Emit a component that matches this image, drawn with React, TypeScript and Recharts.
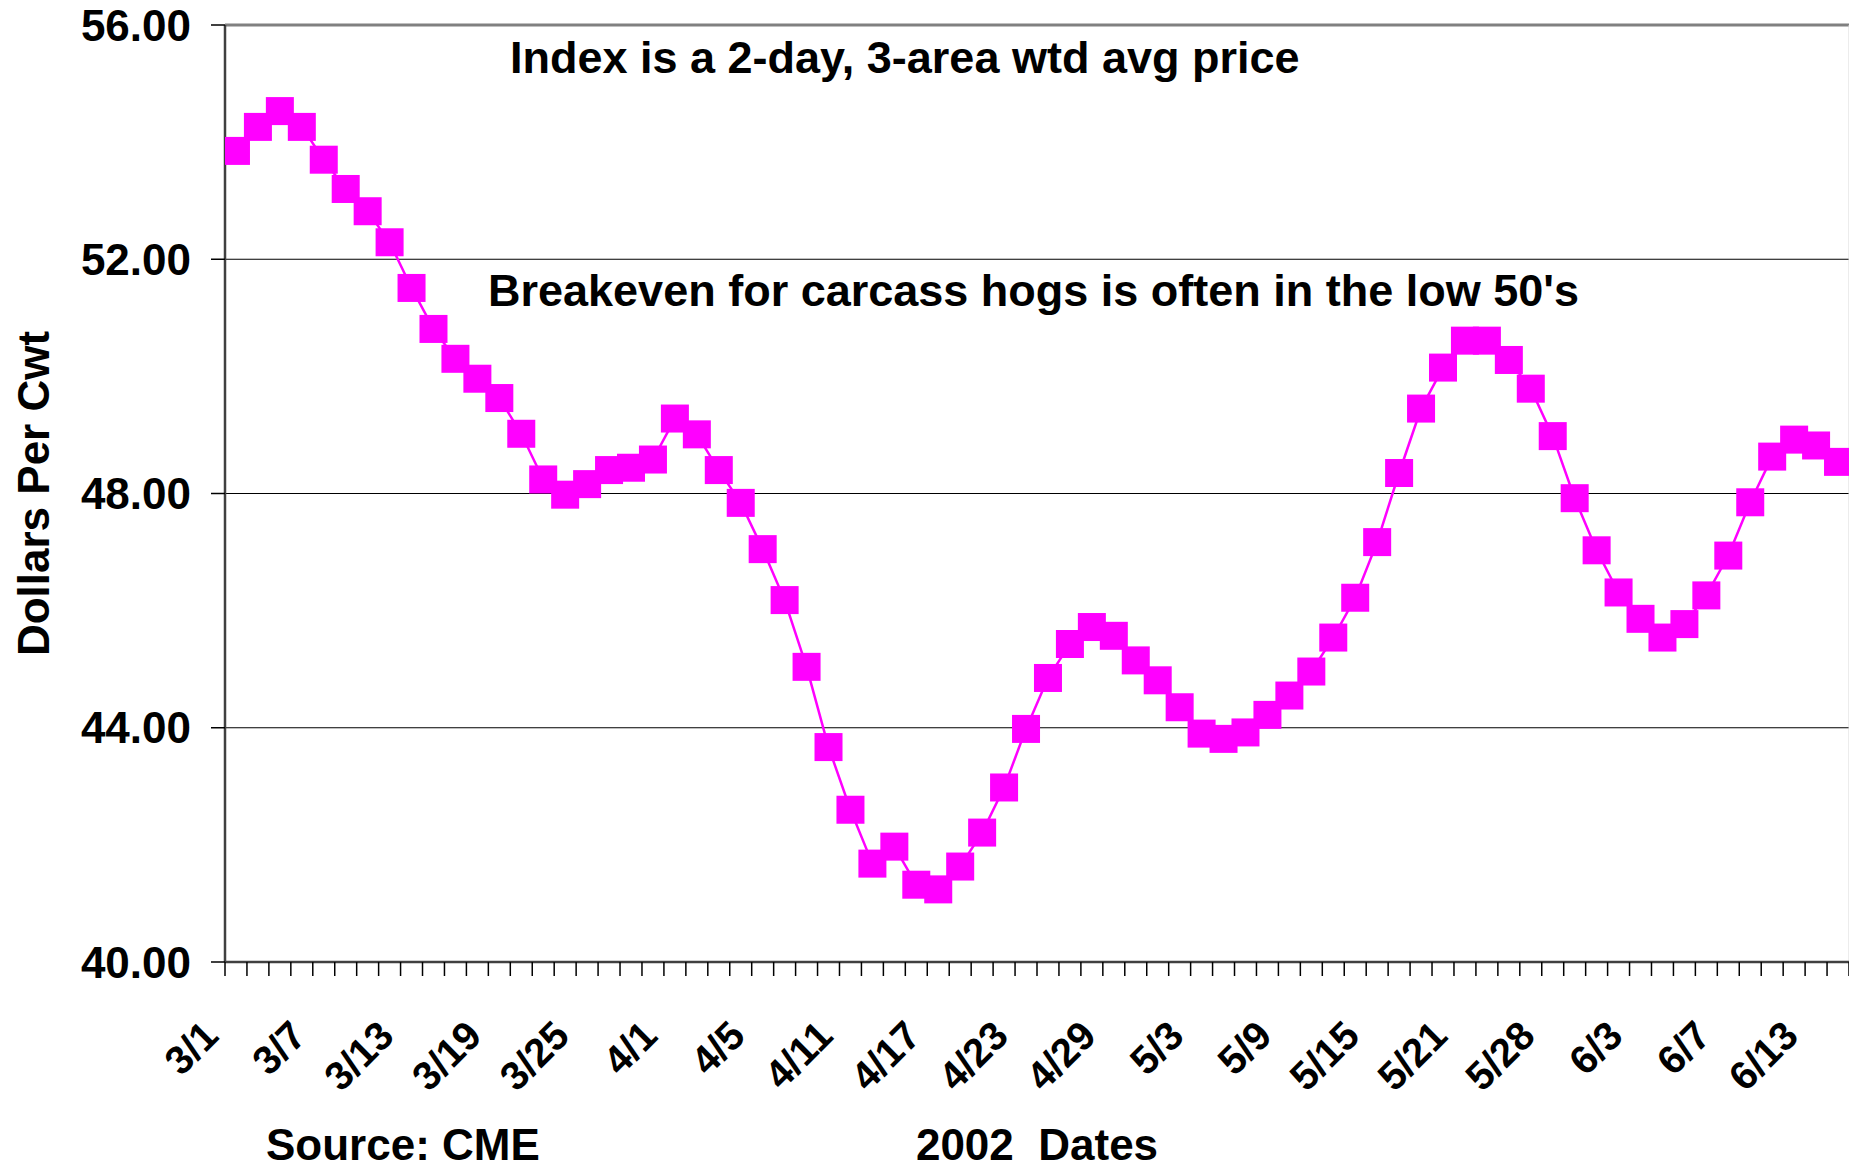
import { LineChart, Line, XAxis, YAxis, CartesianGrid, ReferenceLine } from 'recharts';

// trading days, March - June 2002
const dates = [
    '3/1', '3/4', '3/5', '3/6', '3/7', '3/8', '3/11', '3/12', '3/13', '3/14',
    '3/15', '3/18', '3/19', '3/20', '3/21', '3/22', '3/25', '3/26', '3/27', '3/28',
    '4/1', '4/2', '4/3', '4/4', '4/5', '4/8', '4/9', '4/10', '4/11', '4/12',
    '4/15', '4/16', '4/17', '4/18', '4/19', '4/22', '4/23', '4/24', '4/25', '4/26',
    '4/29', '4/30', '5/1', '5/2', '5/3', '5/6', '5/7', '5/8', '5/9', '5/10',
    '5/13', '5/14', '5/15', '5/16', '5/17', '5/20', '5/21', '5/22', '5/23', '5/24',
    '5/28', '5/29', '5/30', '5/31', '6/3', '6/4', '6/5', '6/6', '6/7', '6/10',
    '6/11', '6/12', '6/13', '6/14',
];

// index price, $/cwt
const prices = [
    53.85, 54.26, 54.53, 54.26, 53.70, 53.20, 52.82, 52.29, 51.51, 50.81,
    50.30, 49.96, 49.63, 49.02, 48.24, 47.98, 48.16, 48.40, 48.44, 48.58,
    49.28, 49.01, 48.40, 47.84, 47.05, 46.18, 45.04, 43.67, 42.60, 41.68,
    41.97, 41.32, 41.24, 41.63, 42.21, 42.98, 43.98, 44.85, 45.43, 45.72,
    45.57, 45.15, 44.81, 44.35, 43.90, 43.81, 43.92, 44.22, 44.55, 44.96,
    45.54, 46.22, 47.17, 48.35, 49.45, 50.15, 50.61, 50.61, 50.28, 49.79,
    48.98, 47.92, 47.03, 46.31, 45.86, 45.54, 45.77, 46.26, 46.94, 47.85,
    48.63, 48.92, 48.82, 48.54,
];

const yTicks = [40, 44, 48, 52, 56];
const labelStep = 4;

const data = dates.map((date, i) => ({ i, date, price: prices[i] }));
const boundaryTicks = dates.map((_, i) => i - 0.5).concat(dates.length - 0.5);
const labelTicks = data.filter((d) => d.i % labelStep === 0).map((d) => d.i);
const xDomain = [-0.5, dates.length - 0.5];

const FONT = '"Liberation Sans", Arial, sans-serif';
const textStyle = { fontFamily: FONT, fontWeight: 700, fontSize: 44, fill: '#000' };
const MAGENTA = '#FF00FF';

const SquareDot = (props: any) => {
    const { cx, cy, index } = props;
    if (cx == null || cy == null) return null;
    return <rect key={index} x={cx - 14} y={cy - 14} width={28} height={28} fill={MAGENTA} />;
};

// no text on the tick-mark axis, only the little lines
const EmptyTick = () => <g />;

const DateTick = (props: any) => {
    const { x, y, payload } = props;
    const ax = x - 15.5;
    const ay = y + 56;
    return (
        <text x={ax} y={ay} transform={`rotate(-45, ${ax}, ${ay})`} textAnchor="end" {...textStyle} fontSize={40}>
            {dates[payload.value]}
        </text>
    );
};

const YTitle = (props: any) => {
    const vb = props.viewBox;
    const cx = vb.x + 49;
    const cy = vb.y + vb.height / 2;
    return (
        <text x={cx} y={cy} transform={`rotate(-90, ${cx}, ${cy})`} textAnchor="middle" {...textStyle}>
            Dollars Per Cwt
        </text>
    );
};

export default function App() {
    return (
        <div style={{ position: 'absolute', left: 0, top: 0, width: 1849, height: 1170, background: '#fff' }}>
            <LineChart width={1849} height={1170} data={data} margin={{ top: 25, right: 0, left: 0, bottom: 0 }}>
                <CartesianGrid xAxisId="a" vertical={false} stroke="#000" strokeWidth={1.2} />

                {/* date labels (stacked below the tick-mark axis) */}
                <XAxis
                    xAxisId="b"
                    type="number"
                    dataKey="i"
                    domain={xDomain}
                    allowDataOverflow
                    ticks={labelTicks}
                    interval={0}
                    tick={<DateTick />}
                    tickSize={0}
                    tickMargin={0}
                    tickLine={false}
                    axisLine={false}
                    height={188}
                />

                {/* tick marks between categories */}
                <XAxis
                    xAxisId="a"
                    type="number"
                    dataKey="i"
                    domain={xDomain}
                    allowDataOverflow
                    ticks={boundaryTicks}
                    interval={0}
                    tick={<EmptyTick />}
                    tickSize={14}
                    tickLine={{ stroke: '#000', strokeWidth: 1.5 }}
                    axisLine={{ stroke: '#404040', strokeWidth: 2.5 }}
                    height={20}
                />

                <YAxis
                    type="number"
                    domain={[40, 56]}
                    ticks={yTicks}
                    interval={0}
                    width={225}
                    tickFormatter={(v: number) => v.toFixed(2)}
                    tick={textStyle}
                    tickSize={14}
                    tickMargin={20}
                    tickLine={{ stroke: '#000', strokeWidth: 1.5 }}
                    axisLine={{ stroke: '#404040', strokeWidth: 2.5 }}
                    label={{ content: <YTitle /> }}
                />

                <ReferenceLine xAxisId="a" y={56} stroke="#808080" strokeWidth={3} />
                <ReferenceLine xAxisId="a" x={dates.length - 0.5} stroke="#d8d8d8" strokeWidth={1} />

                <Line
                    xAxisId="a"
                    type="linear"
                    dataKey="price"
                    stroke={MAGENTA}
                    strokeWidth={2.5}
                    dot={<SquareDot />}
                    activeDot={false}
                    isAnimationActive={false}
                />

                <text x={510} y={73} {...textStyle} fontSize={45}>Index is a 2-day, 3-area wtd avg price</text>
                <text x={488} y={306} {...textStyle} fontSize={45}>Breakeven for carcass hogs is often in the low 50's</text>
                <text x={266} y={1160} {...textStyle}>Source: CME</text>
                <text x={1037} y={1160} textAnchor="middle" style={{ whiteSpace: 'pre' }} {...textStyle}>
                    2002  Dates
                </text>
            </LineChart>
        </div>
    );
}
